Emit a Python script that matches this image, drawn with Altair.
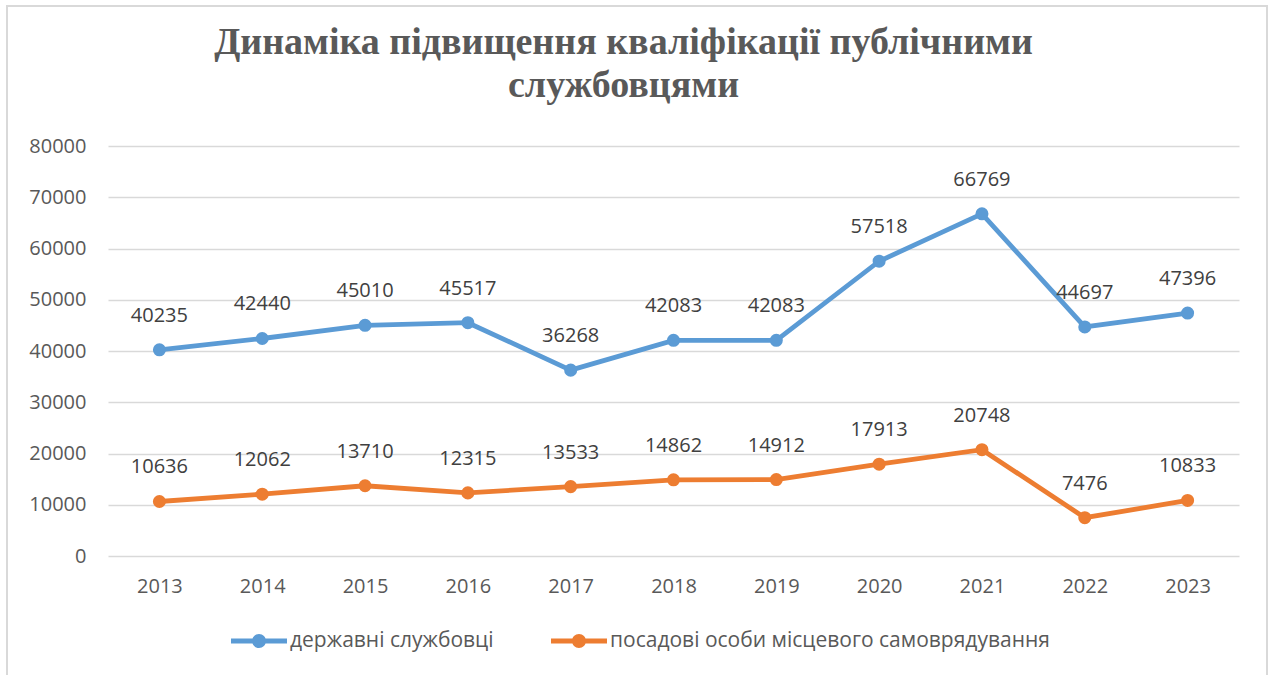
import altair as alt
import pandas as pd

years = ["2013", "2014", "2015", "2016", "2017", "2018", "2019", "2020", "2021", "2022", "2023"]
state_servants = [40235, 42440, 45010, 45517, 36268, 42083, 42083, 57518, 66769, 44697, 47396]
local_officials = [10636, 12062, 13710, 12315, 13533, 14862, 14912, 17913, 20748, 7476, 10833]
series_names = ["державні службовці", "посадові особи місцевого самоврядування"]
series_colors = ["#5B9BD5", "#ED7D31"]
y_ticks = [0, 10000, 20000, 30000, 40000, 50000, 60000, 70000, 80000]

rows = []
for y, a, b in zip(years, state_servants, local_officials):
    rows.append({"year": y, "value": a, "series": series_names[0]})
    rows.append({"year": y, "value": b, "series": series_names[1]})
df = pd.DataFrame(rows)

FONT = "Open Sans"
GRAY = "#595959"

legend_path = ("M-1,-0.09 L-0.2,-0.09 L-0.2,0.09 L-1,0.09 Z "
               "M0.2,-0.09 L1,-0.09 L1,0.09 L0.2,0.09 Z "
               "M0.25,0 A0.25,0.25 0 1,1 -0.25,0 A0.25,0.25 0 1,1 0.25,0 Z")

x_enc = alt.X("year:N", sort=years, title=None,
              scale=alt.Scale(paddingOuter=0.5, paddingInner=0),
              axis=alt.Axis(labelAngle=0, ticks=False, domain=False, grid=False,
                            labelPadding=20, labelFont=FONT, labelFontSize=20,
                            labelColor=GRAY))
y_enc = alt.Y("value:Q", title=None,
              scale=alt.Scale(domain=[0, 80000], nice=False),
              axis=alt.Axis(values=y_ticks, ticks=False, domain=False, grid=True,
                            gridColor="#D9D9D9", gridWidth=1.3, labelPadding=22,
                            labelFont=FONT, labelFontSize=20, labelColor=GRAY,
                            format="d"))
color_scale = alt.Scale(domain=series_names, range=series_colors)

base = alt.Chart(df)

line_layers = [
    base.transform_filter(alt.datum.series == name)
    .mark_line(strokeWidth=4.8, color=col)
    .encode(x=x_enc, y=y_enc)
    for name, col in zip(series_names, series_colors)
]

points = base.mark_circle(size=170, opacity=1).encode(
    x=x_enc, y=y_enc,
    fill=alt.Fill("series:N", scale=color_scale,
                  legend=alt.Legend(title=None, orient="none", direction="horizontal",
                                    legendX=123, legendY=467,
                                    symbolType=legend_path, symbolSize=3136,
                                    symbolStrokeWidth=0, columnPadding=57,
                                    labelFont=FONT, labelFontSize=21, labelLimit=800,
                                    labelColor=GRAY, labelOffset=3)),
)
labels = base.mark_text(dy=-34, font=FONT, fontSize=20, color="#404040").encode(
    x=x_enc, y=y_enc, text=alt.Text("value:Q", format="d"),
)
border = alt.Chart(pd.DataFrame({"k": [0]})).mark_rect(
    fill=None, stroke="#D9D9D9", strokeWidth=2
).encode(
    x=alt.value(-101), x2=alt.value(1159), y=alt.value(-140), y2=alt.value(545)
)

chart = alt.layer(border, *line_layers, points, labels).properties(
    width=1131, height=410,
    title=alt.TitleParams(
        text=["Динаміка підвищення кваліфікації публічними", "службовцями"],
        font="Liberation Serif", fontSize=38, fontWeight="bold", color=GRAY,
        anchor="middle", frame="group", dx=-50, dy=130, offset=30, lineHeight=43,
    ),
    autosize=alt.AutoSizeParams(type="none"),
    padding={"left": 108, "top": 146, "right": 33, "bottom": 119},
    background="white",
).configure_view(strokeWidth=0)

chart.save("out.html", embed_options={"renderer": "svg", "actions": False})
